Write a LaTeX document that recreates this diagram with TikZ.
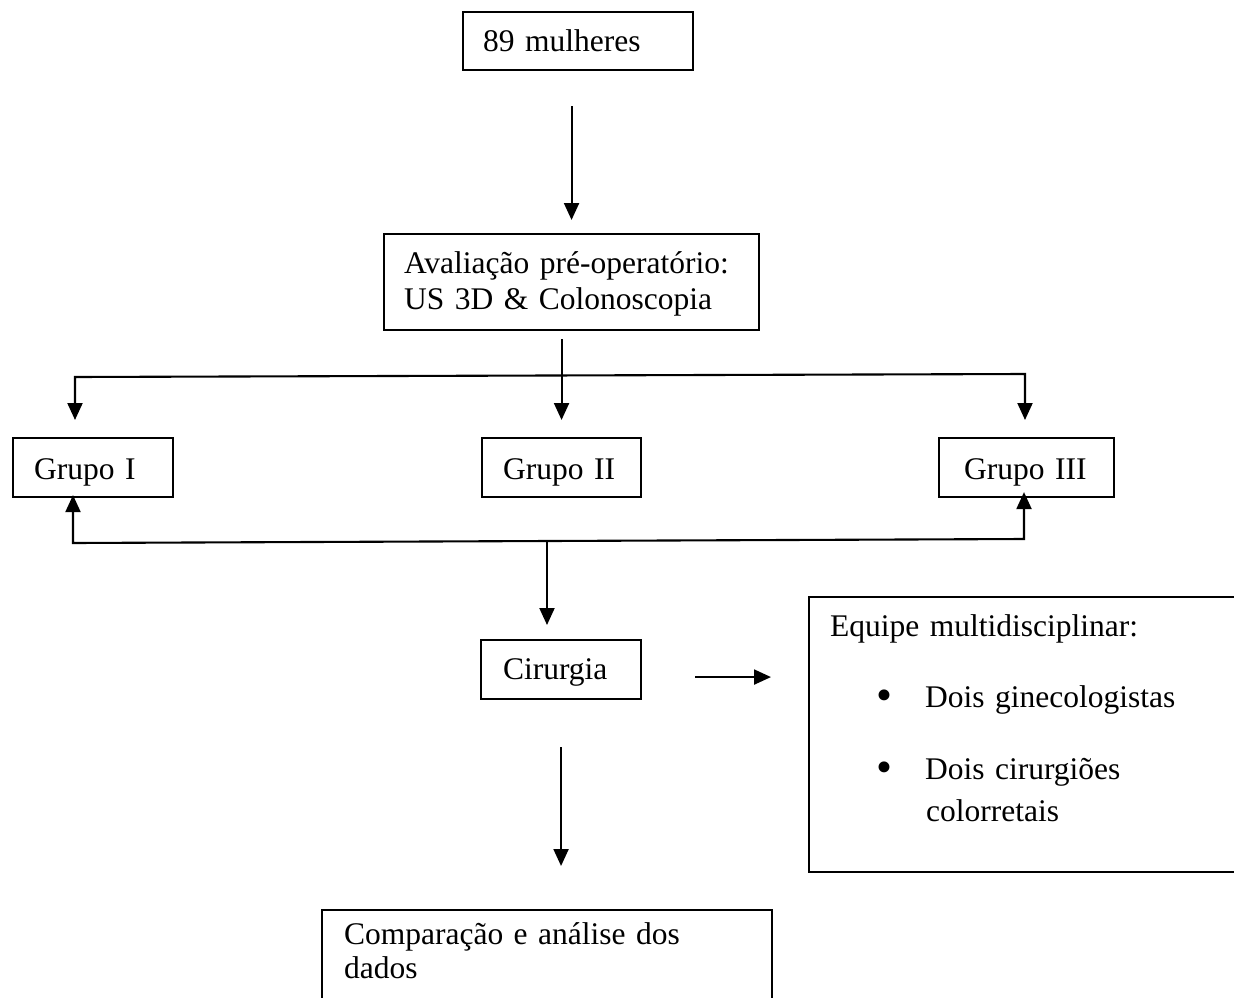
\documentclass[tikz,border=0pt]{standalone}
\usepackage{fontspec}
\setmainfont{Liberation Serif}
\usetikzlibrary{arrows.meta,calc}
\newcommand{\bigbul}{\raisebox{-3pt}{\scalebox{1.45}{\textbullet}}}
\begin{document}
\begin{tikzpicture}[x=1pt,y=-1pt,
  box/.style={draw, line width=2.1pt, anchor=north west, align=left, inner ysep=3pt,
    font=\fontsize{31.5}{36}\selectfont},
  conn/.style={line width=2.1pt},
  tipa/.tip={Triangle[length=17pt,width=15pt]},
  arr/.style={conn, -tipa},
  arrboth/.style={conn, tipa-tipa}]
\useasboundingbox (0,0) rectangle (1234,998);
\clip (0,0) rectangle (1234,998);

\node[box, inner xsep=20pt, text width=190pt, minimum height=58pt, text height=24pt, text depth=4pt] (m89) at (462,11) {89 mulheres};
\node[box, inner xsep=20pt, text width=335pt, minimum height=96pt, text height=24pt, text depth=42pt] (aval) at (383,233) {Avaliação pré-operatório:\\US 3D \& Colonoscopia};
\node[box, inner xsep=21pt, text width=118pt, minimum height=59pt, text height=26pt, text depth=3pt] (g1) at (12,437) {Grupo I};
\node[box, inner xsep=21pt, text width=117pt, minimum height=59pt, text height=26pt, text depth=3pt] (g2) at (481,437) {Grupo II};
\node[box, inner xsep=25pt, text width=125pt, minimum height=59pt, text height=26pt, text depth=3pt] (g3) at (938,437) {Grupo III};
\node[box, inner xsep=22pt, text width=116pt, minimum height=59pt, text height=23pt, text depth=4pt] (cir) at (480,639) {Cirurgia};
\node[box, inner xsep=21pt, text width=408pt, minimum height=275pt, text height=24pt, text depth=221pt] (eq) at (808,596)
  {Equipe multidisciplinar:\\[35pt]
   \hspace*{46pt}\makebox[49pt][l]{\bigbul}Dois ginecologistas\\[36pt]
   \hspace*{46pt}\makebox[49pt][l]{\bigbul}Dois cirurgiões\\[6pt]
   \hspace*{96pt}colorretais};
\node[box, inner xsep=22pt, text width=406pt, minimum height=120pt, text height=24pt, text depth=76pt,
  font=\fontsize{31.5}{34}\selectfont] (comp) at (321,909) {Comparação e análise dos\\dados};

\coordinate (tl) at (75,377);
\coordinate (tr) at (1025,374);
\coordinate (bl) at (73,543);
\coordinate (br) at (1024,539);
\coordinate (bj) at (547,541);
\coordinate (g1in) at ($(g1.north)+(0,-17)$);
\coordinate (g3in) at ($(g3.north)+(0,-17)$);
\coordinate (g1out) at ($(g1.south)+(0,-3)$);
\coordinate (g3out) at ($(g3.south)+(0,-6)$);
\coordinate (cirin) at ($(cir.north)+(0,-14)$);

\draw[arr] ($(m89.south -| aval.north)+(0,35)$) -- ($(aval.north)+(0,-13)$);
\draw[arr] ($(aval.south -| g2.north)+(0,8)$) -- ($(g2.north)+(0,-17)$);
\draw[arrboth] (tl |- g1in) -- (tl) -- (tr) -- (tr |- g3in);
\draw[arrboth] (bl |- g1out) -- (bl) -- (br) -- (br |- g3out);
\draw[arr] (bj) -- (bj |- cirin);
\draw[arr] ($(cir.east)+(53,7.5)$) -- ($(cir.east -| eq.west)+(-37,7.5)$);
\draw[arr] ($(cir.south)+(0,47)$) -- ($(cir.south |- comp.north)+(0,-43)$);
\end{tikzpicture}
\end{document}
